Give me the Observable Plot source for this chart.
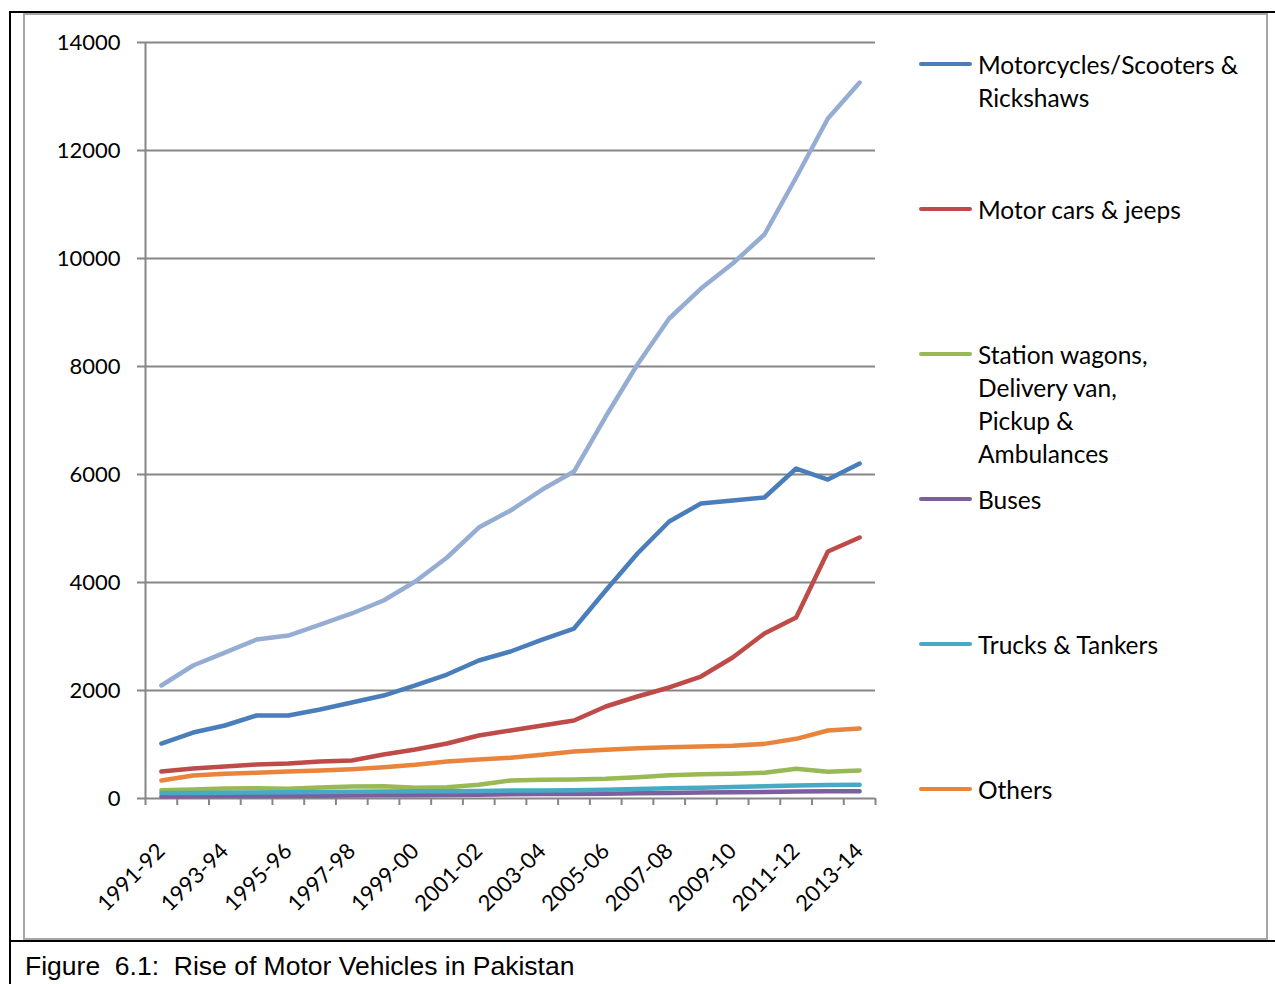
<!DOCTYPE html>
<html><head><meta charset="utf-8">
<script src="https://cdn.jsdelivr.net/npm/d3@7"></script>
<script src="https://cdn.jsdelivr.net/npm/@observablehq/plot@0.6"></script>
<style>
html,body{margin:0;padding:0;background:#fff;}
#page{position:relative;width:1275px;height:984px;overflow:hidden;background:#fff;}
.bl{position:absolute;background:#000;}
#chartbox{position:absolute;left:23px;top:13px;width:1241px;height:923px;border:2px solid #a6a6a6;}
#plot{position:absolute;left:0;top:0;}
.leg{position:absolute;left:919px;font-family:Lato,sans-serif;font-size:24.5px;line-height:33px;color:#000;}
.leg .sw{position:absolute;left:0;top:14px;width:53px;height:4px;border-radius:2px;}
.leg .tx{position:absolute;left:59px;top:0;white-space:pre;}
#caption{position:absolute;left:25px;top:950px;font-family:"Liberation Sans",Arial,sans-serif;font-size:26.5px;line-height:32px;white-space:pre;color:#000;}
</style></head>
<body><div id="page">
<div class="bl" style="left:10px;top:11px;width:1265px;height:2px;"></div>
<div class="bl" style="left:9px;top:11px;width:2px;height:973px;"></div>
<div class="bl" style="left:9px;top:940px;width:1266px;height:2px;"></div>
<div id="chartbox"></div>
<div id="plot"></div>
<div id="legend"></div>
<div id="caption"></div>
</div>
<script>
const years = ["1991-92","1992-93","1993-94","1994-95","1995-96","1996-97","1997-98","1998-99","1999-00","2000-01","2001-02","2002-03","2003-04","2004-05","2005-06","2006-07","2007-08","2008-09","2009-10","2010-11","2011-12","2012-13","2013-14"];
const labelYears = years.filter((d, i) => i % 2 === 0);
const yTicks = [0, 2000, 4000, 6000, 8000, 10000, 12000, 14000];

const seriesNames = ["Motorcycles/Scooters & Rickshaws", "Motor cars & jeeps", "Station wagons, Delivery van, Pickup & Ambulances", "Buses", "Trucks & Tankers", "Others"];
const legendLabels = ["Motorcycles/Scooters &\nRickshaws", "Motor cars & jeeps", "Station wagons,\nDelivery van,\nPickup &\nAmbulances", "Buses", "Trucks & Tankers", "Others"];
const seriesColors = ["#4a7ebb", "#be4b48", "#98b954", "#7d5fa0", "#46aac5", "#e8843c"];
const totalColor = "#95add3";

const motorcycles = [1018,1222,1352,1537,1537,1648,1778,1907,2093,2296,2555,2722,2944,3148,3852,4537,5130,5463,5519,5574,6111,5907,6204];
const cars = [500,555,592,630,648,685,704,815,907,1018,1167,1259,1352,1444,1704,1889,2056,2259,2611,3056,3352,4574,4833];
const stationWagons = [155,167,185,191,179,204,222,228,198,210,253,333,346,352,364,395,432,451,457,475,549,494,519];
const buses = [38,42,45,48,50,52,55,58,60,65,70,78,82,85,90,95,100,110,115,122,130,134,136];
const trucks = [100,104,108,112,116,120,124,128,132,136,140,146,150,152,162,175,188,200,212,225,242,248,253];
const others = [333,426,457,475,500,519,543,580,623,685,722,753,809,870,901,932,950,963,975,1012,1105,1259,1296];
const totalValues = [2093,2463,2700,2944,3018,3220,3426,3666,4018,4463,5018,5333,5722,6055,7074,8037,8889,9444,9907,10444,11500,12593,13259];

const seriesValues = [motorcycles, cars, stationWagons, buses, trucks, others];

const W = 900, H = 940, ML = 145, MR = 25, MT = 42, MB = 142;
const gray = "#868686";
const idx = years.map((d, i) => i);
const boundaries = d3.range(years.length + 1).map(i => i - 0.5);
const labelIdx = idx.filter(i => i % 2 === 0);

const lineMarks = seriesValues.map((vals, k) =>
  Plot.lineY(idx.map(i => ({i, value: vals[i]})), {
    x: "i", y: "value", stroke: seriesColors[k], strokeWidth: 4.5,
    strokeLinejoin: "round", strokeLinecap: "round"
  })
);
lineMarks.push(Plot.lineY(idx.map(i => ({i, value: totalValues[i]})), {
  x: "i", y: "value", stroke: totalColor, strokeWidth: 4.5,
  strokeLinejoin: "round", strokeLinecap: "round"
}));

const chart = Plot.plot({
  width: W, height: H,
  marginLeft: ML, marginRight: MR, marginTop: MT, marginBottom: MB,
  style: {fontFamily: "Lato, sans-serif", fontSize: "22px", color: "#000", background: "transparent", overflow: "visible"},
  x: {type: "linear", domain: [-0.5, years.length - 0.5]},
  y: {domain: [0, 14000]},
  marks: [
    Plot.gridY(yTicks, {stroke: gray, strokeOpacity: 1, strokeWidth: 2}),
    Plot.ruleX([-0.5], {stroke: gray, strokeWidth: 2}),
    Plot.axisY(yTicks, {tickSize: 8, tickPadding: 17, stroke: gray, strokeWidth: 2, tickFormat: d => String(d), label: null, fill: "#000", fontSize: 22}),
    Plot.axisX(boundaries, {tickSize: 7, tickFormat: () => "", stroke: gray, strokeWidth: 2, label: null}),
    Plot.axisX(labelIdx, {tickSize: 0, tickPadding: 49, tickRotate: -45, tickFormat: i => years[i], label: null, fill: "#000", fontSize: 22}),
    ...lineMarks
  ]
});
document.getElementById("plot").appendChild(chart);

const legend = document.getElementById("legend");
legendLabels.forEach((lab, k) => {
  const e = document.createElement("div");
  e.className = "leg";
  e.style.top = (64 + k * 145 - 16) + "px";
  const sw = document.createElement("div");
  sw.className = "sw";
  sw.style.background = seriesColors[k];
  const tx = document.createElement("div");
  tx.className = "tx";
  tx.textContent = lab;
  e.appendChild(sw); e.appendChild(tx);
  legend.appendChild(e);
});
document.getElementById("caption").textContent = "Figure  6.1:  Rise of Motor Vehicles in Pakistan";
</script>
</body></html>
